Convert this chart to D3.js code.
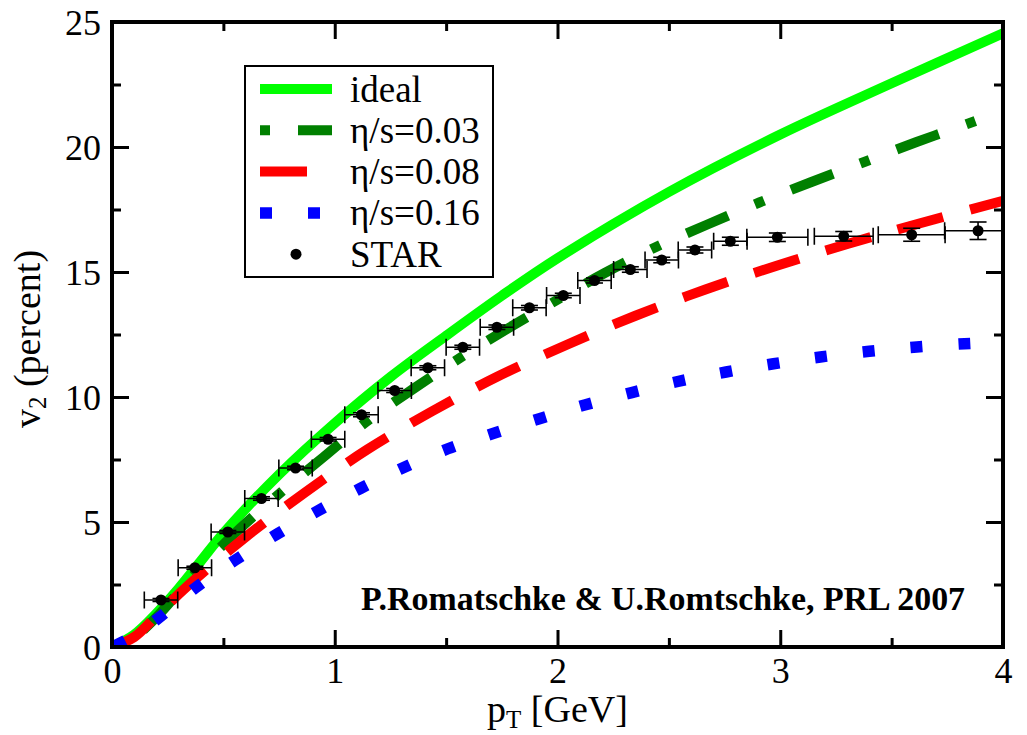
<!DOCTYPE html>
<html>
<head>
<meta charset="utf-8">
<script src="https://cdn.jsdelivr.net/npm/d3@7"></script>
<style>
  body { margin: 0; background: #fff; }
</style>
</head>
<body>
<svg id="chart" width="1027" height="735" font-family="'Liberation Serif', 'Times New Roman', serif"></svg>
<script>
// curves: pT [GeV] and v2 [percent]
var idealPt = [0, 0.1, 0.2, 0.3, 0.4, 0.5, 0.75, 1.0, 1.25, 1.5, 1.75, 2.0, 2.5, 3.0, 3.5, 4.0];
var idealV2 = [0, 0.5, 1.35, 2.35, 3.45, 4.55, 6.9, 8.95, 10.8, 12.45, 14.05, 15.55, 18.2, 20.5, 22.55, 24.55];

var visc03Pt = [0, 0.1, 0.2, 0.3, 0.4, 0.5, 0.6, 0.76, 0.95, 1.14, 1.355, 1.56, 1.777, 1.994, 2.21, 2.44, 2.673, 2.906, 3.14, 3.377, 3.612, 3.848, 4.0];
var visc03V2 = [0, 0.4, 1.2, 2.2, 3.2, 4.1, 4.95, 6.2, 7.6, 9.0, 10.34, 11.55, 12.74, 13.86, 14.95, 15.99, 16.9, 17.78, 18.6, 19.4, 20.2, 20.95, 21.45];

var visc08Pt = [0, 0.1, 0.2, 0.339, 0.596, 0.865, 1.146, 1.437, 1.731, 2.05, 2.35, 2.664, 2.984, 3.305, 3.628, 4.0];
var visc08V2 = [0, 0.4, 1.25, 2.44, 4.37, 6.17, 7.9, 9.43, 10.82, 12.12, 13.25, 14.3, 15.25, 16.13, 16.95, 17.85];

var visc16Pt = [0, 0.1, 0.208, 0.375, 0.552, 0.738, 0.925, 1.117, 1.29, 1.508, 1.714, 1.919, 2.126, 2.54, 2.757, 2.97, 3.18, 3.40, 3.613, 3.828, 4.0];
var visc16V2 = [0, 0.45, 1.15, 2.37, 3.47, 4.5, 5.45, 6.35, 7.1, 7.93, 8.55, 9.13, 9.69, 10.62, 11.0, 11.33, 11.6, 11.83, 12.0, 12.13, 12.2];

// STAR data with errors
var starPt    = [0.22, 0.372, 0.52, 0.671, 0.824, 0.97, 1.12, 1.269, 1.418, 1.575, 1.728, 1.874, 2.026, 2.166, 2.327, 2.468, 2.617, 2.776, 2.987, 3.285, 3.59, 3.888];
var starV2    = [1.88, 3.17, 4.6, 5.94, 7.16, 8.31, 9.29, 10.26, 11.17, 11.99, 12.79, 13.57, 14.06, 14.66, 15.1, 15.48, 15.88, 16.23, 16.39, 16.43, 16.49, 16.65];
var starPtErr = [0.075, 0.075, 0.075, 0.075, 0.075, 0.075, 0.075, 0.075, 0.075, 0.075, 0.075, 0.075, 0.075, 0.075, 0.075, 0.075, 0.075, 0.075, 0.137, 0.132, 0.15, 0.15];
var starV2Err = [0.06, 0.06, 0.06, 0.07, 0.07, 0.07, 0.08, 0.08, 0.08, 0.08, 0.09, 0.09, 0.09, 0.1, 0.11, 0.11, 0.12, 0.16, 0.17, 0.19, 0.26, 0.35];

var legendLabels = ["ideal", "\u03b7/s=0.03", "\u03b7/s=0.08", "\u03b7/s=0.16", "STAR"];
var xTicks = [0, 1, 2, 3, 4], xMinor = [0.5, 1.5, 2.5, 3.5];
var yTicks = [0, 5, 10, 15, 20, 25], yMinor = [2.5, 7.5, 12.5, 17.5, 22.5];

var serif = "'Liberation Serif', 'Times New Roman', serif";
var svg = d3.select("#chart");
var pLeft = 112, pRight = 1003, pTop = 22, pBottom = 647;

var x = d3.scaleLinear().domain([0, 4]).range([pLeft, pRight]);
var y = d3.scaleLinear().domain([0, 25]).range([pBottom, pTop]);

svg.append("defs").append("clipPath").attr("id", "plotclip")
  .append("rect").attr("x", pLeft).attr("y", pTop)
  .attr("width", pRight - pLeft).attr("height", pBottom - pTop);

var plot = svg.append("g").attr("clip-path", "url(#plotclip)");

var line = d3.line()
  .x(function(d) { return x(d[0]); })
  .y(function(d) { return y(d[1]); })
  .curve(d3.curveCatmullRom.alpha(0.5));

// curve styles; "anchor" = pT where a dash is centred in the picture
var curves = [
  {pt: idealPt, v2: idealV2, color: "#00ff00", width: 10, dash: null},
  {pt: visc03Pt, v2: visc03V2, color: "#008000", width: 10, dash: [45, 29, 10, 29], anchor: 2.673, mid: 22.5},
  {pt: visc08Pt, v2: visc08V2, color: "#ff0000", width: 10, dash: [47, 28], anchor: 2.664, mid: 23.5},
  {pt: visc16Pt, v2: visc16V2, color: "#0000ff", width: 11.5, dash: [12, 36], anchor: 2.757, mid: 6}
];

curves.forEach(function(c) {
  var pts = c.pt.map(function(p, i) { return [p, c.v2[i]]; });
  var p = plot.append("path")
    .attr("d", line(pts))
    .attr("fill", "none")
    .attr("stroke", c.color)
    .attr("stroke-width", c.width)
    .attr("stroke-linecap", "butt");
  if (c.dash) {
    p.attr("stroke-dasharray", c.dash.join(","));
    // find path length at the anchor pT so the dash phase lines up
    var node = p.node(), total = node.getTotalLength();
    var lo = 0, hi = total, target = x(c.anchor);
    for (var k = 0; k < 40; k++) {
      var m = (lo + hi) / 2;
      if (node.getPointAtLength(m).x < target) lo = m; else hi = m;
    }
    p.attr("stroke-dashoffset", c.mid - lo);
  }
});

// STAR points
var star = plot.append("g").attr("stroke", "#000").attr("stroke-width", 1.6);
starPt.forEach(function(p, i) {
  var cx = x(p), cy = y(starV2[i]);
  var x0 = x(p - starPtErr[i]), x1 = x(p + starPtErr[i]);
  var y0 = y(starV2[i] - starV2Err[i]), y1 = y(starV2[i] + starV2Err[i]);
  star.append("line").attr("x1", x0).attr("x2", x1).attr("y1", cy).attr("y2", cy);
  star.append("line").attr("x1", x0).attr("x2", x0).attr("y1", cy - 8.5).attr("y2", cy + 8.5);
  star.append("line").attr("x1", x1).attr("x2", x1).attr("y1", cy - 8.5).attr("y2", cy + 8.5);
  star.append("line").attr("x1", cx).attr("x2", cx).attr("y1", y0).attr("y2", y1);
  star.append("line").attr("x1", cx - 8.5).attr("x2", cx + 8.5).attr("y1", y0).attr("y2", y0);
  star.append("line").attr("x1", cx - 8.5).attr("x2", cx + 8.5).attr("y1", y1).attr("y2", y1);
});
plot.append("g").selectAll("circle")
  .data(starPt).enter().append("circle")
  .attr("cx", function(d) { return x(d); })
  .attr("cy", function(d, i) { return y(starV2[i]); })
  .attr("r", 5.5)
  .attr("fill", "#000");

// axes, ticks pointing inward on all four sides
function styleAxis(g) {
  g.attr("font-family", serif).attr("font-size", 36);
  g.select(".domain").remove();
  g.selectAll(".tick line").attr("stroke", "#000").attr("stroke-width", 3);
  g.selectAll("text").attr("fill", "#000");
}

svg.append("g").attr("transform", "translate(0," + pBottom + ")")
  .call(d3.axisBottom(x).tickValues(xTicks).tickSize(-17).tickPadding(10).tickFormat(d3.format("d")))
  .call(styleAxis);
svg.append("g").attr("transform", "translate(0," + pBottom + ")")
  .call(d3.axisBottom(x).tickValues(xMinor).tickSize(-9).tickFormat(""))
  .call(styleAxis);
svg.append("g").attr("transform", "translate(0," + pTop + ")")
  .call(d3.axisTop(x).tickValues(xTicks).tickSize(-17).tickFormat(""))
  .call(styleAxis);
svg.append("g").attr("transform", "translate(0," + pTop + ")")
  .call(d3.axisTop(x).tickValues(xMinor).tickSize(-9).tickFormat(""))
  .call(styleAxis);

svg.append("g").attr("transform", "translate(" + pLeft + ",0)")
  .call(d3.axisLeft(y).tickValues(yTicks).tickSize(-17).tickPadding(11).tickFormat(d3.format("d")))
  .call(styleAxis)
  .selectAll("text").attr("dy", "0.35em");
svg.append("g").attr("transform", "translate(" + pLeft + ",0)")
  .call(d3.axisLeft(y).tickValues(yMinor).tickSize(-9).tickFormat(""))
  .call(styleAxis);
svg.append("g").attr("transform", "translate(" + pRight + ",0)")
  .call(d3.axisRight(y).tickValues(yTicks).tickSize(-17).tickFormat(""))
  .call(styleAxis);
svg.append("g").attr("transform", "translate(" + pRight + ",0)")
  .call(d3.axisRight(y).tickValues(yMinor).tickSize(-9).tickFormat(""))
  .call(styleAxis);

svg.append("rect")
  .attr("x", pLeft).attr("y", pTop)
  .attr("width", pRight - pLeft).attr("height", pBottom - pTop)
  .attr("fill", "none").attr("stroke", "#000").attr("stroke-width", 4);

// axis titles
var xt = svg.append("text").attr("x", x(2)).attr("y", 722)
  .attr("text-anchor", "middle").attr("font-family", serif).attr("font-size", 38);
xt.append("tspan").text("p");
xt.append("tspan").attr("baseline-shift", "-25%").attr("font-size", 25).text("T");
xt.append("tspan").text(" [GeV]");

var yt = svg.append("text").attr("transform", "translate(40,339) rotate(-90)")
  .attr("text-anchor", "middle").attr("font-family", serif).attr("font-size", 38);
yt.append("tspan").text("v");
yt.append("tspan").attr("baseline-shift", "-25%").attr("font-size", 25).text("2");
yt.append("tspan").text(" (percent)");

// annotation
svg.append("text").attr("x", 361).attr("y", 610)
  .attr("font-family", serif).attr("font-size", 33.9).attr("font-weight", "bold")
  .text("P.Romatschke & U.Romtschke, PRL 2007");

// legend
var lg = svg.append("g");
lg.append("rect").attr("x", 245).attr("y", 66).attr("width", 248).attr("height", 211)
  .attr("fill", "#fff").attr("stroke", "#000").attr("stroke-width", 2);
var legendDash = [null, "10,28,45,29", "47,28", "12,36"];
legendLabels.forEach(function(lab, i) {
  var ry = 89 + i * 41.3;
  if (i < 4) {
    var ln = lg.append("line").attr("x1", 260).attr("x2", 332).attr("y1", ry).attr("y2", ry)
      .attr("stroke", curves[i].color).attr("stroke-width", curves[i].width);
    if (legendDash[i]) ln.attr("stroke-dasharray", legendDash[i]);
  } else {
    lg.append("circle").attr("cx", 296).attr("cy", ry).attr("r", 5.5).attr("fill", "#000");
  }
  lg.append("text").attr("x", 350).attr("y", ry + 12.5)
    .attr("font-family", serif).attr("font-size", 37).text(lab);
});
</script>
</body>
</html>
